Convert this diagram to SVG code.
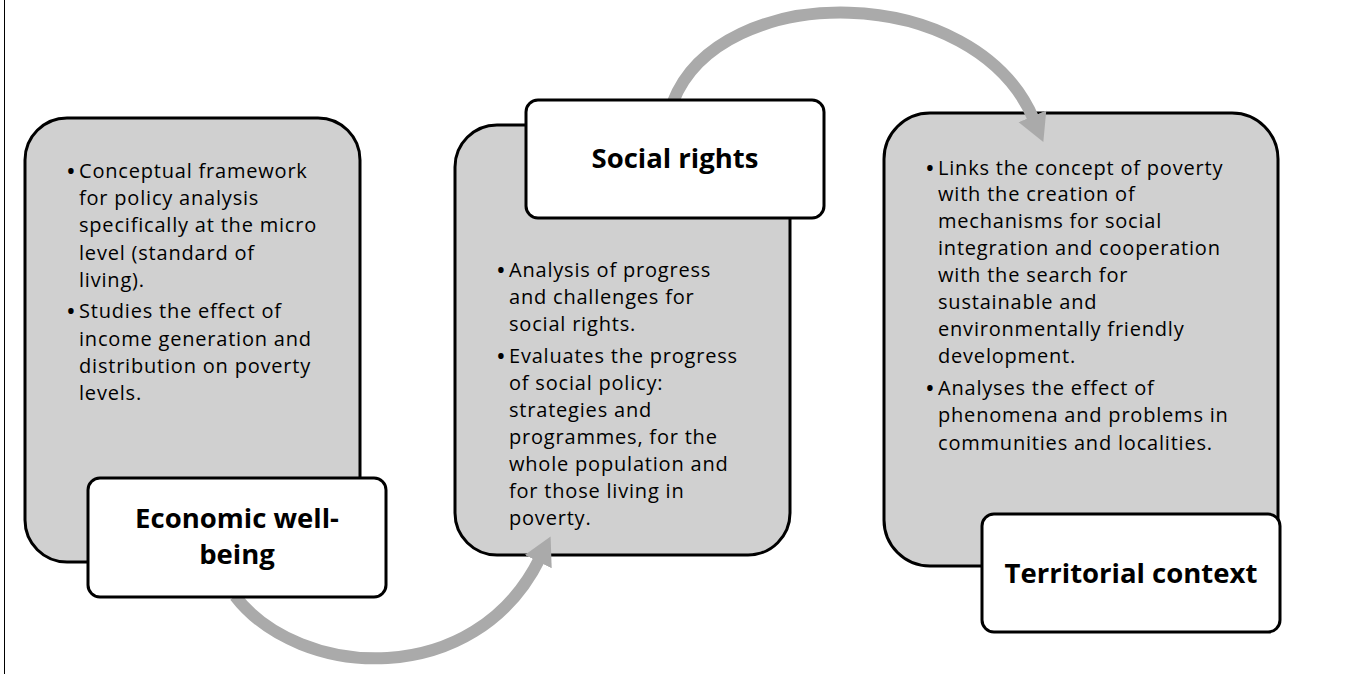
<svg xmlns="http://www.w3.org/2000/svg" width="1346" height="674" viewBox="0 0 1346 674">
<style>
.panel{fill:#d0d0d0;stroke:#000;stroke-width:3}
.label{fill:#fff;stroke:#000;stroke-width:3}
.body{font-family:"Open Sans","Liberation Sans",sans-serif;font-size:20px;letter-spacing:0.8px;fill:#000}
.b{font-size:26px;letter-spacing:0}
.title{font-family:"Open Sans","Liberation Sans",sans-serif;font-size:27.5px;font-weight:bold;fill:#000;text-anchor:middle}
.arc{fill:none;stroke:#aaaaaa;stroke-width:12}
</style>
<defs>
<marker id="ah" markerUnits="userSpaceOnUse" markerWidth="34" markerHeight="34" viewBox="0 0 34 34" refX="4" refY="17" orient="auto">
<path d="M0,2 L28,17 L0,32 Z" fill="#aaaaaa"/>
</marker>
</defs>
<rect width="1346" height="674" fill="#fff"/>
<line x1="4.5" y1="0" x2="4.5" y2="674" stroke="#000" stroke-width="1"/>
<g id="panel-economic">
<rect class="panel" x="25" y="118" width="335" height="444" rx="42"/>
<text class="body"><tspan class="b" x="66" y="180">•</tspan><tspan x="79" y="178">Conceptual framework</tspan><tspan x="79" y="205">for policy analysis</tspan><tspan x="79" y="232">specifically at the micro</tspan><tspan x="79" y="260">level (standard of</tspan><tspan x="79" y="287">living).</tspan><tspan class="b" x="66" y="320">•</tspan><tspan x="79" y="318">Studies the effect of</tspan><tspan x="79" y="346">income generation and</tspan><tspan x="79" y="373">distribution on poverty</tspan><tspan x="79" y="400">levels.</tspan></text>
</g>
<g id="panel-social">
<rect class="panel" x="455" y="125" width="335" height="430" rx="42"/>
<text class="body"><tspan class="b" x="496" y="279">•</tspan><tspan x="509" y="277">Analysis of progress</tspan><tspan x="509" y="304">and challenges for</tspan><tspan x="509" y="331">social rights.</tspan><tspan class="b" x="496" y="365">•</tspan><tspan x="509" y="363">Evaluates the progress</tspan><tspan x="509" y="390">of social policy:</tspan><tspan x="509" y="417">strategies and</tspan><tspan x="509" y="444">programmes, for the</tspan><tspan x="509" y="471">whole population and</tspan><tspan x="509" y="498">for those living in</tspan><tspan x="509" y="525">poverty.</tspan></text>
</g>
<g id="panel-territorial">
<rect class="panel" x="884" y="113" width="394" height="453" rx="46"/>
<text class="body"><tspan class="b" x="925" y="177">•</tspan><tspan x="938" y="175">Links the concept of poverty</tspan><tspan x="938" y="201">with the creation of</tspan><tspan x="938" y="228">mechanisms for social</tspan><tspan x="938" y="255">integration and cooperation</tspan><tspan x="938" y="282">with the search for</tspan><tspan x="938" y="309">sustainable and</tspan><tspan x="938" y="336">environmentally friendly</tspan><tspan x="938" y="363">development.</tspan><tspan class="b" x="925" y="397">•</tspan><tspan x="938" y="395">Analyses the effect of</tspan><tspan x="938" y="422">phenomena and problems in</tspan><tspan x="938" y="450">communities and localities.</tspan></text>
</g>
<g id="connectors">
<path class="arc" d="M235,596 C300,680 475,690 540,558" marker-end="url(#ah)"/>
<path class="arc" d="M673,102 C720,-20 975,-20 1034,120" marker-end="url(#ah)"/>
</g>
<g id="label-economic">
<rect class="label" x="88" y="478" width="298" height="119" rx="12"/>
<text class="title" x="237" y="528">Economic well-</text>
<text class="title" x="237" y="564">being</text>
</g>
<g id="label-social">
<rect class="label" x="526" y="100" width="298" height="118" rx="12"/>
<text class="title" x="675" y="168">Social rights</text>
</g>
<g id="label-territorial">
<rect class="label" x="982" y="514" width="298" height="118" rx="12"/>
<text class="title" x="1131" y="583">Territorial context</text>
</g>
</svg>
